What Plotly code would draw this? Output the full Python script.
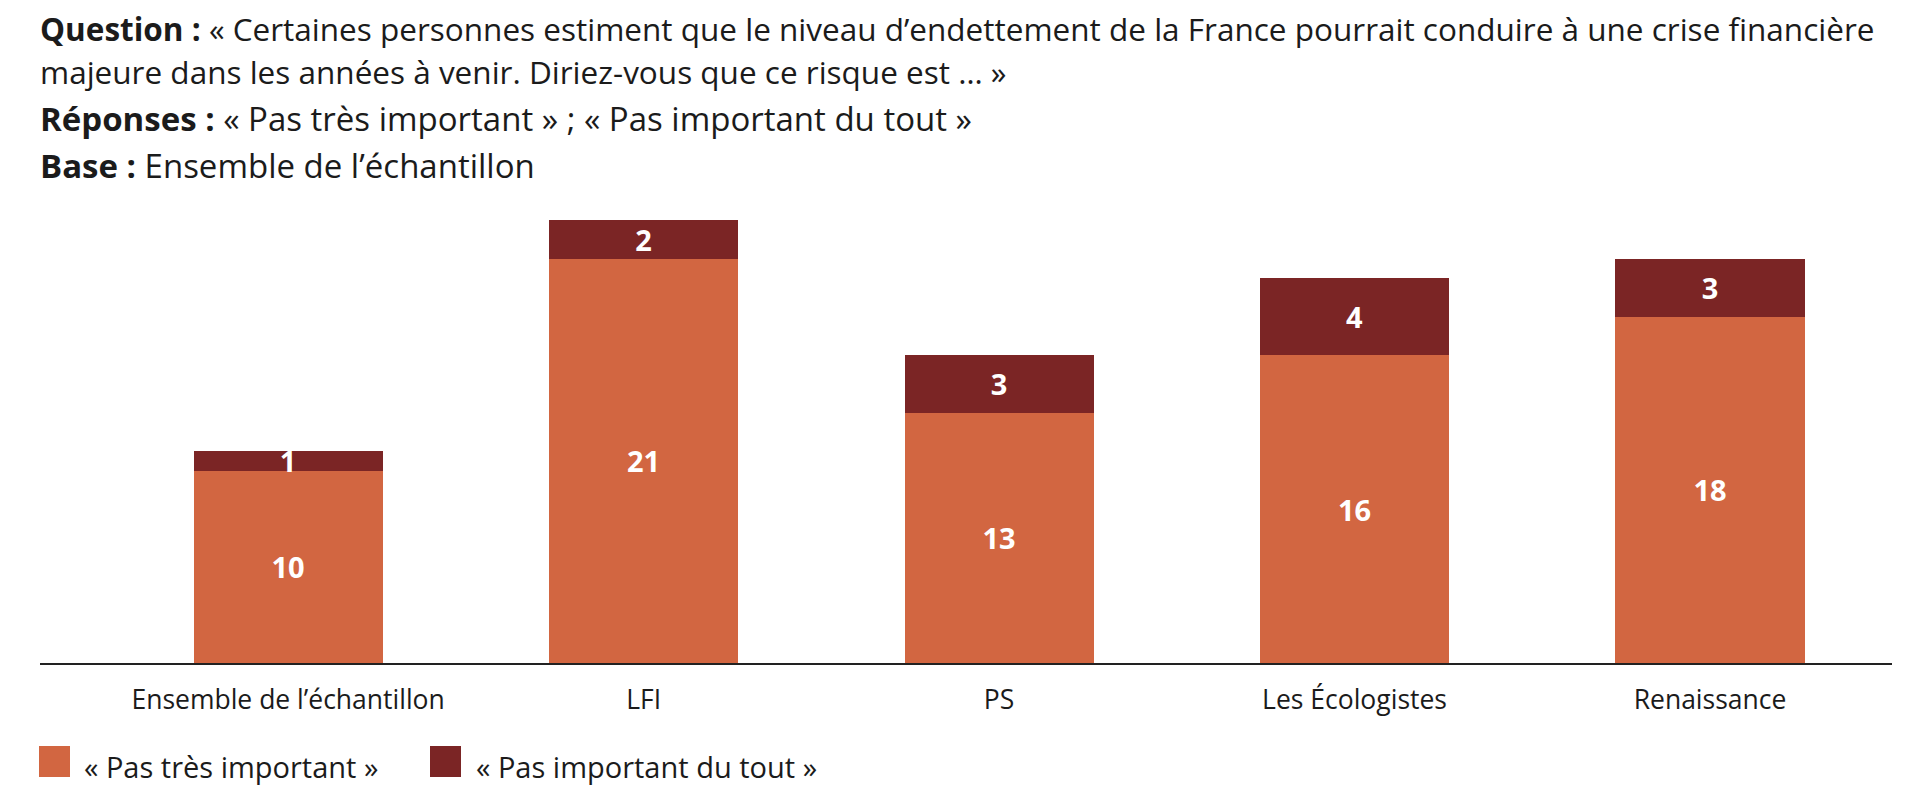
import plotly.graph_objects as go

# data (percent of respondents)
categories = ["Ensemble de l\u2019\u00e9chantillon", "LFI", "PS", "Les \u00c9cologistes", "Renaissance"]
pas_tres_important = [10, 21, 13, 16, 18]
pas_important_du_tout = [1, 2, 3, 4, 3]
series_names = ["\u00ab Pas tr\u00e8s important \u00bb", "\u00ab Pas important du tout \u00bb"]

title_lines = [
    "<b>Question :</b> \u00ab Certaines personnes estiment que le niveau d\u2019endettement de la France pourrait conduire \u00e0 une crise financi\u00e8re",
    "majeure dans les ann\u00e9es \u00e0 venir. Diriez-vous que ce risque est \u2026 \u00bb",
    "<b>R\u00e9ponses :</b> \u00ab Pas tr\u00e8s important \u00bb ; \u00ab Pas important du tout \u00bb",
    "<b>Base :</b> Ensemble de l\u2019\u00e9chantillon",
]

ORANGE = "#D26641"
DARK = "#7B2525"
INK = "#1b1b1b"
FONT = "Open Sans"

# page body has an 8px margin, so the figure is drawn 8px smaller and
# positions below are given in page pixels, then shifted back
OFF = 8
W, H = 1926 - OFF, 806 - OFF
L, R, T, B = 32, 34, 193, 143
PW, PH = W - L - R, H - T - B


def xp(px):
    return (px - OFF - L) / PW


def yp(px):
    return (H - B - (px - OFF)) / PH


fig = go.Figure()
for vals, name, color in [(pas_tres_important, series_names[0], ORANGE),
                          (pas_important_du_tout, series_names[1], DARK)]:
    fig.add_trace(go.Bar(
        x=categories, y=vals, name=name,
        marker=dict(color=color, line=dict(width=0)),
        text=vals, texttemplate="%{text}",
        textposition="inside", insidetextanchor="middle",
        textangle=0, constraintext="none",
        insidetextfont=dict(family=FONT, size=29, color="white", weight="bold"),
        hoverinfo="skip",
    ))

annotations = []
for text, ymid, size in zip(title_lines, [29, 71, 119, 165], [31.5, 31.5, 33, 33]):
    annotations.append(dict(
        text=text, xref="paper", yref="paper", x=xp(38), y=yp(ymid),
        xanchor="left", yanchor="middle", showarrow=False,
        font=dict(family=FONT, size=size, color=INK),
    ))

shapes = []
legend_pos = [(39, 82), (430, 474)]
for (sx, tx), name, color in zip(legend_pos, series_names, [ORANGE, DARK]):
    shapes.append(dict(type="rect", xref="paper", yref="paper",
                       x0=xp(sx), x1=xp(sx + 31), y0=yp(777), y1=yp(746),
                       fillcolor=color, line=dict(width=0)))
    annotations.append(dict(
        text=name, xref="paper", yref="paper", x=xp(tx), y=yp(766),
        xanchor="left", yanchor="middle", showarrow=False,
        font=dict(family=FONT, size=29, color=INK),
    ))

fig.update_layout(
    width=W, height=H,
    margin=dict(l=L, r=R, t=T, b=B),
    barmode="stack", bargap=0.468,
    plot_bgcolor="white", paper_bgcolor="white",
    showlegend=False,
    annotations=annotations, shapes=shapes,
    font=dict(family=FONT, color=INK),
)
fig.update_xaxes(
    range=[-0.698, 4.512], showgrid=False, zeroline=False,
    showline=True, linecolor="#222222", linewidth=2,
    ticks="", ticklabelstandoff=12,
    tickfont=dict(family=FONT, size=26.5, color=INK),
)
fig.update_yaxes(range=[0, 24], visible=False, showgrid=False, zeroline=False)

fig.write_html("out.html")
